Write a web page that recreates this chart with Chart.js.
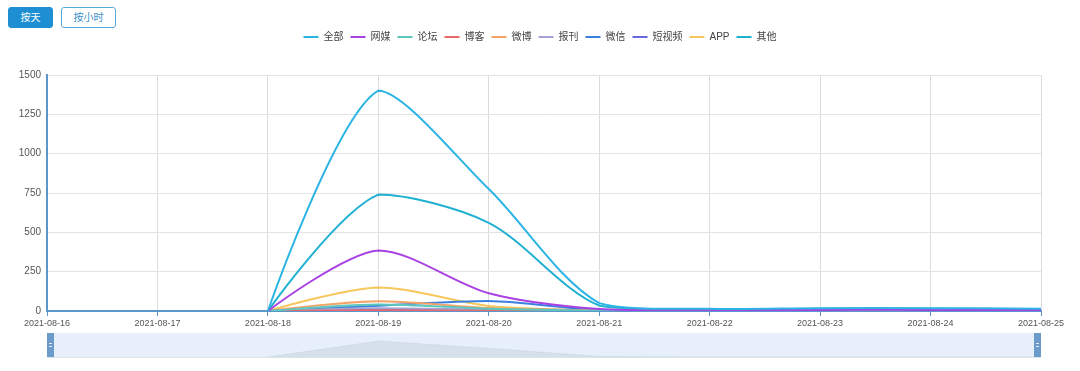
<!DOCTYPE html>
<html lang="zh-CN">
<head>
<meta charset="utf-8">
<title>传播走势</title>
<script src="https://cdn.jsdelivr.net/npm/chart.js@4.4.1/dist/chart.umd.min.js"></script>
<style>
  html, body { margin: 0; padding: 0; background: #fff; }
  body { width: 1080px; height: 371px; position: relative; overflow: hidden;
         font-family: "Liberation Sans", "Noto Sans CJK SC", sans-serif; }
  .boton { position: absolute; top: 7px; height: 21px; box-sizing: border-box; z-index: 2;
           border: 1px solid #5aaad8; border-radius: 3px; background: #fff; color: #3a8fc8;
           font-size: 10px; line-height: 19px; text-align: center; }
  .boton.activo { background: #1e8fd2; border-color: #1e8fd2; color: #fff; }
  #cajaGrafico { position: absolute; left: 0; top: 0; width: 1080px; height: 330px; }
  #cajaZoom { position: absolute; left: 0; top: 328px; width: 1080px; height: 35px; }
</style>
</head>
<body>
<span class="boton activo" style="left:8px;width:45px;">按天</span>
<span class="boton" style="left:61px;width:55px;">按小时</span>
<div id="cajaGrafico"><canvas id="grafico"></canvas></div>
<div id="cajaZoom"><canvas id="zoom"></canvas></div>
<script>
/* 数据：按天统计的传播量（08-16、08-17 无数据） */
var FECHAS = ['2021-08-16', '2021-08-17', '2021-08-18', '2021-08-19', '2021-08-20',
              '2021-08-21', '2021-08-22', '2021-08-23', '2021-08-24', '2021-08-25'];
var NOMBRES = ['全部', '网媒', '论坛', '博客', '微博', '报刊', '微信', '短视频', 'APP', '其他'];
var quanbu     = [null, null, 0, 1400, 775, 50, 14, 18, 18, 15];
var wangmei    = [null, null, 0, 385, 113, 12, 5, 7, 7, 6];
var luntan     = [null, null, 0, 42, 15, 3, 1, 2, 2, 1];
var boke       = [null, null, 0, 4, 2, 1, 0, 1, 1, 0];
var weibo      = [null, null, 0, 62, 19, 3, 1, 2, 2, 1];
var baokan     = [null, null, 0, 17, 8, 2, 1, 1, 1, 1];
var weixin     = [null, null, 0, 34, 64, 6, 3, 4, 4, 3];
var duanshipin = [null, null, 0, 8, 10, 5, 6, 9, 9, 8];
var app        = [null, null, 0, 150, 32, 5, 2, 3, 3, 2];
var qita       = [null, null, 0, 740, 560, 35, 11, 14, 14, 12];
var Y_TICKS = [0, 250, 500, 750, 1000, 1250, 1500];

(function () {
  'use strict';

  var COLORES = ['#2cb4e4', '#a942e2', '#5ec7bd', '#e96a6a', '#f5a266',
                 '#a3a3d6', '#3b7fe0', '#6b69e0', '#f5c75c', '#1fb0d2'];
  var VALORES = [quanbu, wangmei, luntan, boke, weibo, baokan, weixin, duanshipin, app, qita];
  var FUENTE = '"Liberation Sans", "Noto Sans CJK SC", sans-serif';
  var AZUL_EJE = '#5b96cc';

  var datasets = NOMBRES.map(function (nombre, i) {
    return {
      label: nombre,
      data: VALORES[i],
      borderColor: COLORES[i],
      backgroundColor: COLORES[i],
      borderWidth: 2,
      tension: 0.3,
      pointRadius: 0,
      pointHoverRadius: 0,
      fill: false
    };
  });

  /* espacio extra entre leyenda y área del gráfico */
  var espacioLeyenda = {
    id: 'espacioLeyenda',
    beforeInit: function (chart) {
      var ley = chart.legend;
      if (!ley) { return; }
      var fitOriginal = ley.fit;
      ley.fit = function () { fitOriginal.call(this); this.height += 23; };
    }
  };

  /* curvas suaves: sin manija en los extremos del tramo y
     sin pasar el mínimo/máximo de cada serie */
  var suavizado = {
    id: 'suavizado',
    beforeDatasetDraw: function (chart, args) {
      var meta = args.meta, linea = meta.dataset;
      if (!linea || !linea.updateControlPoints) { return; }
      linea.updateControlPoints(chart.chartArea, 'x');
      var pts = meta.data;
      var arriba = Infinity, abajo = -Infinity;
      pts.forEach(function (p) {
        if (p.skip) { return; }
        arriba = Math.min(arriba, p.y);
        abajo = Math.max(abajo, p.y);
      });
      pts.forEach(function (p, i) {
        if (p.skip) { return; }
        var previo = pts[i - 1], siguiente = pts[i + 1];
        if (!previo || previo.skip) { p.cp2x = p.x; p.cp2y = p.y; }
        if (!siguiente || siguiente.skip) { p.cp1x = p.x; p.cp1y = p.y; }
        p.cp1y = Math.min(abajo, Math.max(arriba, p.cp1y));
        p.cp2y = Math.min(abajo, Math.max(arriba, p.cp2y));
      });
    }
  };

  new Chart(document.getElementById('grafico'), {
    type: 'line',
    data: { labels: FECHAS, datasets: datasets },
    plugins: [espacioLeyenda, suavizado],
    options: {
      responsive: true,
      maintainAspectRatio: false,
      animation: false,
      layout: { padding: { left: 0, right: 0, top: 25, bottom: 0 } },
      plugins: {
        tooltip: { enabled: false },
        legend: {
          position: 'top',
          labels: {
            color: '#444',
            font: { family: FUENTE, size: 10 },
            usePointStyle: true,
            pointStyle: 'line',
            pointStyleWidth: 15,
            boxHeight: 10,
            padding: 7
          }
        }
      },
      scales: {
        x: {
          offset: false,
          afterFit: function (s) { s.height = 19; },
          grid: { color: '#dcdcdc', tickColor: AZUL_EJE, tickLength: 5, drawTicks: true },
          border: { color: AZUL_EJE, width: 2 },
          ticks: { color: '#555', font: { family: FUENTE, size: 9 }, autoSkip: false, maxRotation: 0, padding: 2 }
        },
        y: {
          min: 0,
          max: 1500,
          afterFit: function (s) { s.width = 47; },
          afterBuildTicks: function (s) { s.ticks = Y_TICKS.map(function (v) { return { value: v }; }); },
          grid: { color: '#e3e3e3', drawTicks: false },
          border: { color: AZUL_EJE, width: 2 },
          ticks: {
            color: '#555',
            font: { family: FUENTE, size: 10 },
            padding: 6,
            callback: function (v) { return String(v); }
          }
        },
        /* eje vacío a la derecha: sólo reserva el margen */
        yDer: {
          position: 'right',
          afterFit: function (s) { s.width = 39; },
          grid: { display: false, drawTicks: false },
          border: { display: false },
          ticks: { display: false }
        }
      }
    }
  });

  /* barra de zoom con la sombra de la primera serie */
  var fondoZoom = {
    id: 'fondoZoom',
    beforeDatasetsDraw: function (chart) {
      var a = chart.chartArea, ctx = chart.ctx;
      ctx.save();
      ctx.fillStyle = '#e7f0fa';
      ctx.fillRect(a.left, a.top, a.right - a.left, a.bottom - a.top);
      ctx.strokeStyle = '#dde3ea';
      ctx.lineWidth = 1;
      ctx.beginPath();
      ctx.moveTo(a.left, a.bottom + 0.5);
      ctx.lineTo(a.right, a.bottom + 0.5);
      ctx.stroke();
      ctx.restore();
    },
    afterDatasetsDraw: function (chart) {
      var a = chart.chartArea, ctx = chart.ctx;
      ctx.save();
      [a.left, a.right - 7].forEach(function (x) {
        ctx.fillStyle = '#6a9bc9';
        ctx.fillRect(x, a.top, 7, a.bottom - a.top);
        ctx.strokeStyle = 'rgba(255,255,255,0.8)';
        ctx.beginPath();
        var cy = (a.top + a.bottom) / 2;
        ctx.moveTo(x + 2, cy - 1.5); ctx.lineTo(x + 5, cy - 1.5);
        ctx.moveTo(x + 2, cy + 1.5); ctx.lineTo(x + 5, cy + 1.5);
        ctx.stroke();
      });
      ctx.restore();
    }
  };

  new Chart(document.getElementById('zoom'), {
    type: 'line',
    data: {
      labels: FECHAS,
      datasets: [{
        data: quanbu,
        borderColor: 'rgba(47,69,84,0.12)',
        borderWidth: 0.5,
        backgroundColor: 'rgba(47,69,84,0.09)',
        fill: 'origin',
        tension: 0,
        pointRadius: 0
      }]
    },
    plugins: [fondoZoom],
    options: {
      responsive: true,
      maintainAspectRatio: false,
      animation: false,
      layout: { padding: { left: 47, right: 39, top: 5, bottom: 6 } },
      plugins: { legend: { display: false }, tooltip: { enabled: false } },
      scales: {
        x: { display: false, offset: false },
        y: { display: false, min: 0, max: 2100 }
      }
    }
  });
})();
</script>
</body>
</html>
